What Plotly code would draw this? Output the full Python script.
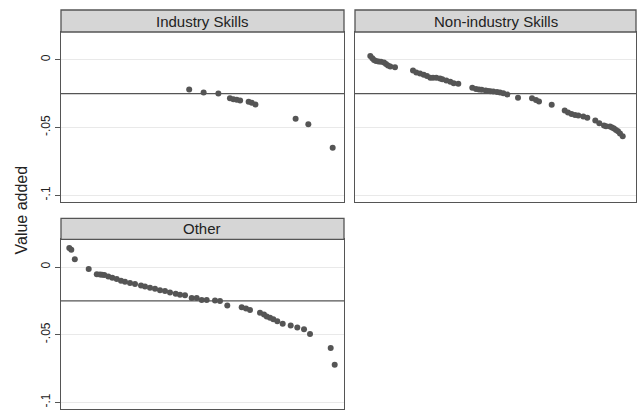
import plotly.graph_objects as go

# Percentile rank (x) and value added (y) per group
industry_rank = [45.3, 50.4, 55.6, 59.7, 60.9, 62.1, 63.3, 66.3, 67.4, 68.7, 82.9, 87.4, 96.0]
industry_va = [-0.0219, -0.0242, -0.0249, -0.0284, -0.0291, -0.0295, -0.0301, -0.0310,
               -0.0318, -0.0330, -0.0436, -0.0476, -0.0650]

nonindustry_rank = [5.44, 6.16, 6.76, 7.47, 8.36, 9.25, 10.32, 11.03, 11.74, 12.56, 14.23,
                    20.64, 21.81, 23.13, 24.45, 25.62, 26.80, 27.76, 28.93, 30.25, 31.07,
                    32.49, 33.91, 35.12, 36.76, 41.74, 43.06, 44.13, 45.09, 46.51, 47.33,
                    48.15, 49.22, 50.53, 51.60, 52.78, 54.20, 58.01, 62.99, 64.41, 65.48,
                    70.00, 74.63, 75.80, 77.05, 78.29, 79.47, 81.25, 82.67, 85.52, 86.94,
                    88.61, 89.32, 90.75, 91.46, 92.17, 92.88, 93.59, 94.31, 95.27]
nonindustry_va = [0.0027, 0.0012, -0.0001, -0.0009, -0.0013, -0.0015, -0.0020, -0.0031,
                  -0.0042, -0.0049, -0.0055, -0.0079, -0.0094, -0.0101, -0.0111, -0.0120,
                  -0.0133, -0.0133, -0.0133, -0.0138, -0.0143, -0.0153, -0.0162, -0.0173,
                  -0.0177, -0.0207, -0.0216, -0.0219, -0.0222, -0.0227, -0.0230, -0.0232,
                  -0.0234, -0.0238, -0.0242, -0.0247, -0.0256, -0.0281, -0.0284, -0.0297,
                  -0.0308, -0.0332, -0.0374, -0.0389, -0.0400, -0.0408, -0.0411, -0.0419,
                  -0.0428, -0.0448, -0.0468, -0.0485, -0.0490, -0.0493, -0.0500, -0.0507,
                  -0.0518, -0.0527, -0.0544, -0.0564]

other_rank = [2.93, 3.64, 4.88, 9.79, 12.65, 13.78, 14.49, 15.30, 16.71, 18.13, 19.68,
              21.20, 22.61, 24.38, 26.15, 28.27, 29.68, 31.45, 33.22, 34.98, 36.75, 38.52,
              40.53, 42.05, 43.82, 46.18, 47.95, 49.72, 51.48, 54.42, 56.18, 58.76, 63.85,
              65.37, 66.78, 70.32, 71.73, 72.69, 73.85, 75.02, 76.43, 78.34, 81.17, 83.50,
              85.87, 87.99, 95.30, 96.71]
other_va = [0.0141, 0.0127, 0.0058, -0.0014, -0.0053, -0.0055, -0.0057, -0.0059, -0.0070,
            -0.0079, -0.0089, -0.0102, -0.0109, -0.0119, -0.0126, -0.0137, -0.0144, -0.0154,
            -0.0161, -0.0171, -0.0178, -0.0188, -0.0198, -0.0205, -0.0208, -0.0230, -0.0230,
            -0.0243, -0.0243, -0.0248, -0.0252, -0.0285, -0.0297, -0.0307, -0.0317, -0.0339,
            -0.0352, -0.0366, -0.0376, -0.0386, -0.0401, -0.0419, -0.0433, -0.0448, -0.0460,
            -0.0495, -0.0599, -0.0723]

panel_titles = ["Industry Skills", "Non-industry Skills", "Other"]
ytick_vals = [0, -0.05, -0.1]
ytick_text = ["0", "-.05", "-.1"]
ref_value = -0.025

W, H = 637, 411
FONT = "Liberation Sans, Arial, Helvetica, sans-serif"
DOT = "#555555"
FRAME = "#555555"
STRIP = "#d6d6d6"
GRID = "#e9e9e9"

# panel geometry in pixels: (left, right, strip_top, plot_top, plot_bottom)
panels = [
    (61, 344, 10, 32, 202),
    (355, 636, 10, 32, 202),
    (61, 344, 218.3, 239.3, 409),
]


def px_x(v):
    return v / W


def px_y(v):
    return 1 - v / H


fig = go.Figure()
series = [(industry_rank, industry_va), (nonindustry_rank, nonindustry_va), (other_rank, other_va)]
shapes = []
annotations = []

for i, ((xs, ys), (l, r, st, pt, pb), title) in enumerate(zip(series, panels, panel_titles)):
    n = "" if i == 0 else str(i + 1)
    fig.add_trace(go.Scatter(
        x=xs, y=ys, mode="markers", xaxis="x" + n, yaxis="y" + n,
        marker=dict(color=DOT, size=6, line=dict(width=0)),
        showlegend=False, hoverinfo="x+y",
    ))
    show_labels = i != 1
    fig.layout["xaxis" + n] = dict(
        domain=[px_x(l), px_x(r)], anchor="y" + n, range=[0, 100],
        showticklabels=False, ticks="", showgrid=False, zeroline=False,
        showline=True, mirror=True, linecolor=FRAME, linewidth=1.3,
    )
    fig.layout["yaxis" + n] = dict(
        domain=[px_y(pb), px_y(pt)], anchor="x" + n, range=[-0.105, 0.0205],
        tickvals=ytick_vals, ticktext=ytick_text, tickangle=-90,
        showticklabels=show_labels, ticks="outside" if show_labels else "",
        ticklen=5, tickwidth=1, tickcolor=FRAME,
        tickfont=dict(family=FONT, size=12, color="#222"),
        showgrid=True, gridcolor=GRID, gridwidth=1, zeroline=False,
        showline=True, mirror=True, linecolor=FRAME, linewidth=1.3,
    )
    # reference line
    shapes.append(dict(type="line", xref="x" + n + " domain", yref="y" + n,
                       x0=0, x1=1, y0=ref_value, y1=ref_value,
                       line=dict(color=FRAME, width=1.3), layer="above"))
    # title strip
    shapes.append(dict(type="rect", xref="paper", yref="paper",
                       x0=px_x(l), x1=px_x(r), y0=px_y(pt), y1=px_y(st),
                       fillcolor=STRIP, line=dict(color=FRAME, width=1.3), layer="above"))
    annotations.append(dict(text=title, xref="paper", yref="paper",
                            x=px_x((l + r) / 2), y=px_y((st + pt) / 2),
                            xanchor="center", yanchor="middle", showarrow=False,
                            font=dict(family=FONT, size=15, color="#222")))

annotations.append(dict(text="Value added", xref="paper", yref="paper",
                        x=px_x(21), y=px_y(210.5), textangle=-90,
                        xanchor="center", yanchor="middle", showarrow=False,
                        font=dict(family=FONT, size=16, color="#222")))

fig.update_layout(
    width=W, height=H, margin=dict(l=0, r=0, t=0, b=0),
    paper_bgcolor="white", plot_bgcolor="white",
    shapes=shapes, annotations=annotations,
)

fig.write_html("out.html")
